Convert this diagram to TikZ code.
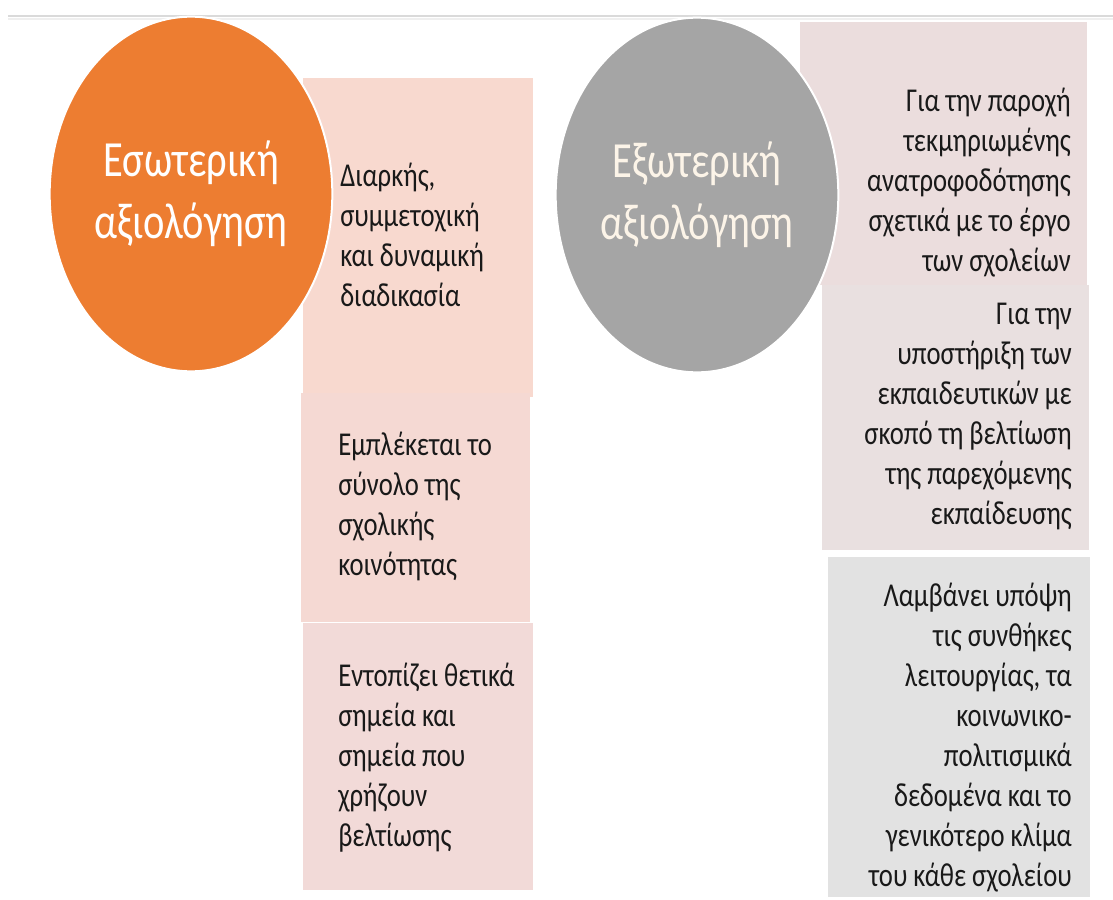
\documentclass[tikz,border=0pt]{standalone}
\usepackage{fontspec}
\setmainfont{Carlito}[FakeStretch=0.8]
\usetikzlibrary{shapes.geometric}

\definecolor{evalorange}{HTML}{ED7D31}
\definecolor{evalgray}{HTML}{A5A5A5}
\definecolor{rulegray}{HTML}{DADADA}
\definecolor{rulelight}{HTML}{EFEFEF}
\definecolor{boxa}{HTML}{F8D9CF}
\definecolor{boxb}{HTML}{F5D9D3}
\definecolor{boxc}{HTML}{F2DAD8}
\definecolor{boxd}{HTML}{EBDDDD}
\definecolor{boxe}{HTML}{E9E0E0}
\definecolor{boxf}{HTML}{E2E2E2}
\definecolor{creamtext}{HTML}{FCF4E8}

\tikzset{
  panel/.style={rectangle, inner sep=0pt, draw=none},
  evalcircle/.style={ellipse, draw=white, line width=1.5pt, inner sep=0pt,
    minimum width=212pt, minimum height=266pt, align=center,
    font=\fontsize{38}{46.5}\selectfont},
  ltxt/.style={anchor=north west, inner sep=0pt, align=left, text=black!90,
    font=\fontsize{25}{30}\selectfont},
  rtxt/.style={anchor=north east, inner sep=0pt, align=right, text=black!90,
    font=\fontsize{25}{30}\selectfont}
}

\begin{document}
\begin{tikzpicture}[x=0.75pt,y=-0.75pt]
    \useasboundingbox (0,0) rectangle (1113,899);
    % Top rule with its soft shadow
    \draw[line width=2pt, rulelight] (8,19) -- (1113,19);
    \draw[line width=2pt, rulegray] (8,16) -- (1113,16);
    % Coloured panels: left x / top y / width / height / colour / name
    \foreach \x/\y/\w/\h/\c/\n in {303/78/230/319/boxa/b1, 301/393/229/229/boxb/b2,
                                    303/623/230/267/boxc/b3, 800/22/287/263/boxd/b4,
                                    822/285/267/265/boxe/b5, 828/557/262/340/boxf/b6} {
        \node[panel, fill=\c, minimum width={\w*0.75pt}, minimum height={\h*0.75pt}] (\n) at (\x+\w/2,\y+\h/2) {};
    }
    % The two kinds of evaluation
    \node[evalcircle, fill=evalorange, text=white] (esw) at (191,194) {Εσωτερική\\αξιολόγηση};
    \node[evalcircle, fill=evalgray, text=creamtext] (exw) at (697,195) {Εξωτερική\\αξιολόγηση};
    % Panel texts
    \node[ltxt] (t1) at (340,163) {Διαρκής,\\συμμετοχική\\και δυναμική\\διαδικασία};
    \node[ltxt] (t2) at (338,432) {Εμπλέκεται το\\σύνολο της\\σχολικής\\κοινότητας};
    \node[ltxt] (t3) at (338,663) {Εντοπίζει θετικά\\σημεία και\\σημεία που\\χρήζουν\\βελτίωσης};
    \node[rtxt] (t4) at (1071,88) {Για την παροχή\\τεκμηριωμένης\\ανατροφοδότησης\\σχετικά με το έργο\\των σχολείων};
    \node[rtxt] (t5) at (1072,303) {Για την\\υποστήριξη των\\εκπαιδευτικών με\\σκοπό τη βελτίωση\\της παρεχόμενης\\εκπαίδευσης};
    \node[rtxt] (t6) at (1072,583) {Λαμβάνει υπόψη\\τις συνθήκες\\λειτουργίας, τα\\κοινωνικο-\\πολιτισμικά\\δεδομένα και το\\γενικότερο κλίμα\\του κάθε σχολείου};
\end{tikzpicture}
\end{document}
